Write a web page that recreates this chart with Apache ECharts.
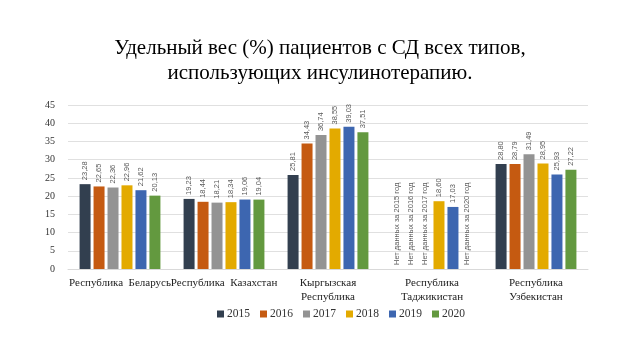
<!DOCTYPE html>
<html><head><meta charset="utf-8">
<script src="https://cdn.jsdelivr.net/npm/echarts@6/dist/echarts.min.js"></script>
<style>html,body{margin:0;padding:0;background:#fff}#c{width:640px;height:360px}</style>
</head><body><div id="c"></div>
<script>
var categories = ['Республика  Беларусь', 'Республика  Казахстан', 'Кыргызская\nРеспублика', 'Республика\nТаджикистан', 'Республика\nУзбекистан'];
var years = ['2015', '2016', '2017', '2018', '2019', '2020'];
var v2015 = [23.28, 19.23, 25.81, null, 28.80];
var v2016 = [22.65, 18.44, 34.43, null, 28.79];
var v2017 = [22.36, 18.21, 36.74, null, 31.49];
var v2018 = [22.96, 18.34, 38.55, 18.60, 28.95];
var v2019 = [21.62, 19.06, 39.03, 17.03, 25.93];
var v2020 = [20.13, 19.04, 37.51, null, 27.22];
var colors = ['#323F4F', '#C55A11', '#939393', '#E3AA00', '#3D66B0', '#63993F'];
var noDataText = 'Нет данных за {y} год';

var all = [v2015, v2016, v2017, v2018, v2019, v2020];
var series = all.map(function (arr, i) {
  return {
    name: years[i], type: 'bar', barWidth: 11, barGap: '27%',
    itemStyle: { color: colors[i] },
    data: arr.map(function (v) { return v === null ? 0 : v; }),
    label: {
      show: true, position: 'top', rotate: 90, align: 'left', verticalAlign: 'middle',
      distance: 4, color: '#595959', fontSize: 7.5, fontFamily: 'Liberation Sans',
      formatter: function (p) {
        if (p.value === 0) return noDataText.replace('{y}', years[i]);
        return p.value.toFixed(2).replace('.', ',');
      }
    }
  };
});

var chart = echarts.init(document.getElementById('c'));
chart.setOption({
  animation: false,
  title: {
    text: 'Удельный вес (%) пациентов с СД всех типов,\nиспользующих инсулинотерапию.',
    left: 'center', top: 31,
    textStyle: { fontFamily: 'Liberation Serif', fontWeight: 'normal', fontSize: 21, color: '#000', lineHeight: 25 }
  },
  legend: {
    data: years, bottom: 35, left: 212, itemWidth: 7, itemHeight: 7, itemGap: 10,
    icon: 'rect',
    textStyle: { fontFamily: 'Liberation Serif', fontSize: 11.5, color: '#333', padding: [0, 0, 0, -2] }
  },
  grid: { left: 68, right: 52, top: 105, bottom: 91 },
  xAxis: {
    type: 'category', data: categories,
    axisLine: { lineStyle: { color: '#d9d9d9' } }, axisTick: { show: false },
    axisLabel: { fontFamily: 'Liberation Serif', fontSize: 11, color: '#222', lineHeight: 14, margin: 7, interval: 0 }
  },
  yAxis: {
    type: 'value', min: 0, max: 45, interval: 5,
    axisLine: { show: false }, axisTick: { show: false },
    splitLine: { lineStyle: { color: '#e0e0e0' } },
    axisLabel: { fontFamily: 'Liberation Serif', fontSize: 10, color: '#333', margin: 13 }
  },
  series: series
});
</script></body></html>
